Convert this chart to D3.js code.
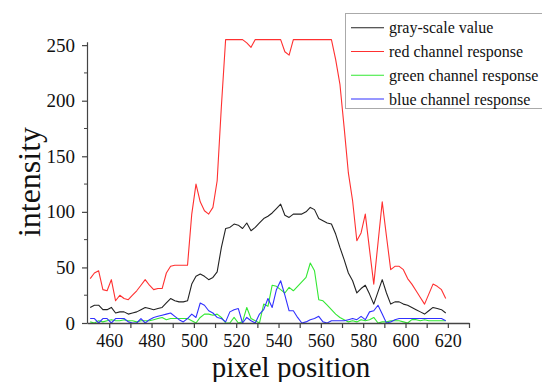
<!DOCTYPE html>
<html>
<head>
<meta charset="utf-8">
<script src="https://cdn.jsdelivr.net/npm/d3@7"></script>
<style>
  body { margin: 0; background: #fff; }
  svg { display: block; }
  svg text { font-family: 'Liberation Serif', 'Times New Roman', serif !important; fill: #111; }
</style>
</head>
<body>
<div id="chart"></div>
<script>
// pixel positions (odd pixels, 451 .. 619)
var positions = d3.range(451, 620, 2);

var grayValues = [14, 16, 16, 12, 12, 14, 9, 10, 10, 8, 9, 10, 12, 14, 13, 12, 13, 14, 18, 22,
  20, 19, 19, 20, 35, 42, 44, 42, 39, 41, 46, 68, 85, 86, 89, 88, 85, 90, 83, 86,
  90, 94, 96, 99, 103, 107, 97, 95, 98, 98, 98, 100, 104, 102, 94, 92, 90, 89, 80, 68,
  57, 45, 38, 27, 31, 34, 26, 17, 28, 39, 27, 17, 19, 19, 17, 16, 14, 12, 10, 8,
  11, 14, 13, 12, 9];

var redValues = [40, 45, 47, 30, 29, 39, 20, 25, 22, 21, 25, 29, 34, 39, 34, 30, 31, 31, 45, 51,
  52, 52, 52, 52, 98, 125, 109, 101, 98, 104, 128, 195, 255, 255, 255, 255, 255, 252, 248, 255,
  255, 255, 255, 255, 255, 255, 244, 241, 255, 255, 255, 255, 255, 255, 255, 255, 255, 255, 237, 215,
  176, 135, 110, 74, 81, 98, 66, 35, 72, 109, 78, 48, 51, 51, 48, 40, 35, 29, 23, 17,
  26, 35, 33, 30, 22];

var greenValues = [1, 0, 2, 1, 2, 3, 2, 2, 3, 2, 2, 1, 2, 2, 2, 3, 4, 5, 3, 4,
  4, 4, 4, 4, 2, 0, 5, 8, 8, 7, 8, 5, 0, 0, 5, 0, 1, 14, 4, 2,
  0, 17, 15, 34, 33, 30, 27, 32, 29, 33, 37, 41, 54, 47, 21, 20, 16, 12, 8, 5,
  3, 1, 2, 1, 3, 2, 3, 5, 0, 1, 1, 2, 2, 2, 1, 0, 3, 3, 2, 3,
  2, 2, 2, 2, 2];

var blueValues = [4, 4, 0, 4, 4, 0, 4, 4, 4, 1, 0, 0, 4, 0, 3, 5, 6, 7, 8, 9,
  6, 3, 1, 4, 8, 5, 18, 16, 11, 9, 5, 4, 1, 10, 12, 13, 0, 5, 2, 0,
  8, 12, 22, 14, 30, 38, 25, 11, 11, 5, 0, 1, 3, 4, 6, 1, 0, 2, 2, 2,
  2, 3, 4, 3, 6, 3, 10, 11, 16, 8, 0, 1, 3, 4, 4, 4, 4, 4, 4, 4,
  4, 4, 4, 4, 2];

var seriesNames = ["gray-scale value", "red channel response", "green channel response", "blue channel response"];
var seriesColors = ["#222222", "#ff3030", "#33e833", "#3030ff"];
var seriesValues = [grayValues, redValues, greenValues, blueValues];

var xTicks = d3.range(460, 631, 10);
var yTicks = [0, 50, 100, 150, 200, 250];
var yMinorTicks = [25, 75, 125, 175, 225];

var width = 542, height = 382;
var serif = "'Liberation Serif', 'Times New Roman', serif";

var x = d3.scaleLinear()
    .domain([449.5, 630])
    .range([87, 469]);
var y = d3.scaleLinear()
    .domain([0, 253])
    .range([323, 41.8]);

var svg = d3.select("#chart").append("svg")
    .attr("width", width)
    .attr("height", height)
    .attr("font-family", serif);

// lines
var line = d3.line()
    .x(function(d) { return x(d[0]); })
    .y(function(d) { return y(d[1]); });

seriesValues.forEach(function(vals, i) {
  svg.append("path")
      .datum(positions.map(function(p, j) { return [p, vals[j]]; }))
      .attr("fill", "none")
      .attr("stroke", seriesColors[i])
      .attr("stroke-width", 1.1)
      .attr("stroke-linejoin", "round")
      .attr("d", line);
});

// x axis
var xAxis = svg.append("g")
    .attr("transform", "translate(0," + y(0) + ")")
    .call(d3.axisBottom(x)
      .tickValues(xTicks)
      .tickSize(5)
      .tickSizeOuter(0)
      .tickPadding(6)
      .tickFormat(function(d) { return (d % 20 === 0 && d <= 620) ? d : ""; }));
xAxis.attr("font-family", serif).attr("font-size", 18);
xAxis.select(".domain").attr("stroke", "#444").attr("stroke-width", 1.6);
xAxis.selectAll(".tick line").attr("stroke", "#444").attr("stroke-width", 1.2);
xAxis.selectAll("text").attr("fill", "#111");

// y axis
var yAxis = svg.append("g")
    .attr("transform", "translate(" + x(449.5) + ",0)")
    .call(d3.axisLeft(y)
      .tickValues(yTicks)
      .tickSize(5)
      .tickSizeOuter(0)
      .tickPadding(7));
yAxis.attr("font-family", serif).attr("font-size", 19);
yAxis.select(".domain").attr("stroke", "#444").attr("stroke-width", 1.2);
yAxis.selectAll(".tick line").attr("stroke", "#444").attr("stroke-width", 1.2);
yAxis.selectAll("text").attr("fill", "#111");

yAxis.selectAll(".minor")
    .data(yMinorTicks)
  .enter().append("line")
    .attr("class", "minor")
    .attr("x1", -3).attr("x2", 0)
    .attr("y1", function(d) { return y(d); })
    .attr("y2", function(d) { return y(d); })
    .attr("stroke", "#444");

// axis titles
svg.append("text")
    .attr("transform", "translate(40,182) rotate(-90)")
    .attr("text-anchor", "middle")
    .attr("font-size", 32)
    .text("intensity");

svg.append("text")
    .attr("x", 291)
    .attr("y", 377)
    .attr("text-anchor", "middle")
    .attr("font-size", 29)
    .text("pixel position");

// legend
var legend = svg.append("g");
legend.append("rect")
    .attr("x", 345.5).attr("y", 13.5)
    .attr("width", 210).attr("height", 95)
    .attr("fill", "#fff")
    .attr("stroke", "#aaa");

var rowY = [27.7, 51.5, 75.3, 99];
seriesNames.forEach(function(name, i) {
  legend.append("line")
      .attr("x1", 351).attr("x2", 384)
      .attr("y1", rowY[i]).attr("y2", rowY[i])
      .attr("stroke", seriesColors[i])
      .attr("stroke-width", 1.1);
  legend.append("text")
      .attr("x", 389)
      .attr("y", rowY[i] + 5.5)
      .attr("font-size", 16)
      .text(name);
});
</script>
</body>
</html>
